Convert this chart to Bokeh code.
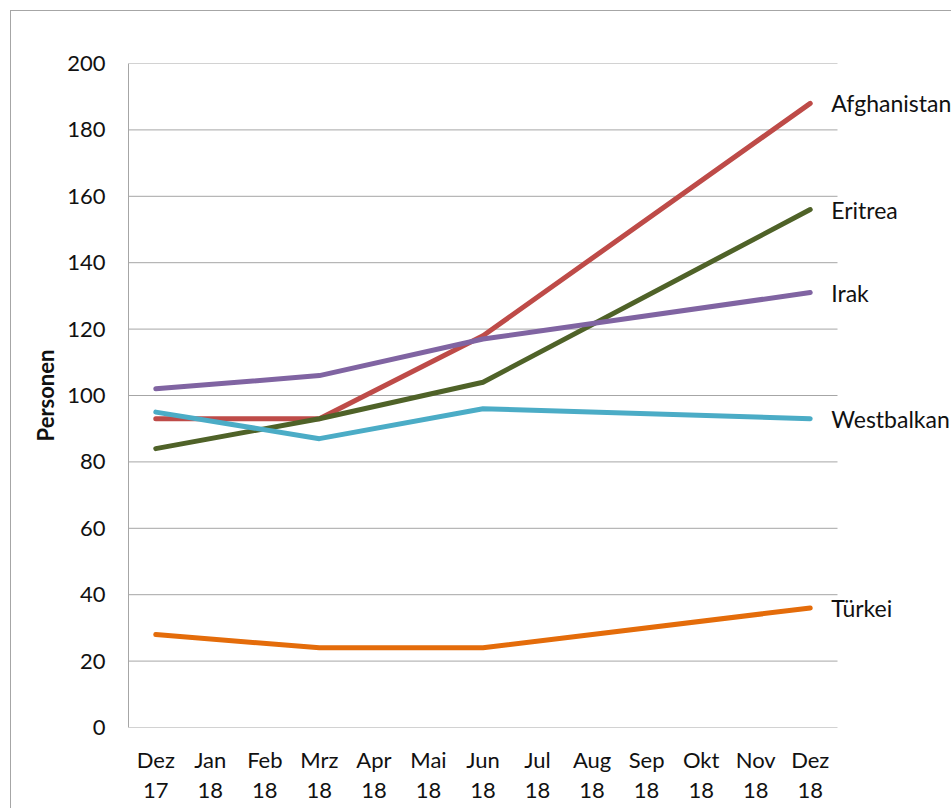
from bokeh.plotting import figure
from bokeh.models import Range1d, FixedTicker, LinearAxis, LabelSet, ColumnDataSource
from bokeh.core.properties import value
from bokeh.embed import file_html
from bokeh.resources import INLINE

# Monthly category axis (two-line labels: month / year)
months = ["Dez", "Jan", "Feb", "Mrz", "Apr", "Mai", "Jun", "Jul", "Aug", "Sep", "Okt", "Nov", "Dez"]
years = ["17", "18", "18", "18", "18", "18", "18", "18", "18", "18", "18", "18", "18"]
period_labels = [f"{m} {y}" for m, y in zip(months, years)]

# Reporting dates with values
sample_periods = ["Dez 17", "Mrz 18", "Jun 18", "Dez 18"]

series_names = ["Afghanistan", "Eritrea", "Irak", "Westbalkan", "Türkei"]
afghanistan = [93, 93, 118, 188]
eritrea = [84, 93, 104, 156]
irak = [102, 106, 117, 131]
westbalkan = [95, 87, 96, 93]
tuerkei = [28, 24, 24, 36]
series_values = [afghanistan, eritrea, irak, westbalkan, tuerkei]
series_colors = ["#BE4B48", "#4F6228", "#8064A2", "#4BACC6", "#E46C0A"]

y_ticks = [0, 20, 40, 60, 80, 100, 120, 140, 160, 180, 200]

FONT = "Lato"
FSIZE = "22px"
TEXT = "#111111"
GRID = "#A6A6A6"

x_pos = [period_labels.index(s) for s in sample_periods]

# Layout: plotting area for the months is 709 px wide; the frame continues to the
# right edge of the canvas so the series names can sit beside the line ends.
FIG_W, FIG_H = 941, 798
LEFT_PAD = 117
CAT_PX = 709 / len(months)
x_lo = -0.5
x_hi = x_lo + (FIG_W - LEFT_PAD) / CAT_PX
cat_hi = len(months) - 0.5

p = figure(
    width=FIG_W, height=FIG_H,
    x_range=Range1d(x_lo, x_hi),
    y_range=Range1d(0, 200),
    output_backend="svg", toolbar_location=None,
    x_axis_location=None, y_axis_location=None,
    min_border_left=LEFT_PAD, min_border_top=52, min_border_right=0, min_border_bottom=82,
    margin=(10, 0, 0, 10),
    styles={"border-top": "1px solid #A6A6A6", "border-left": "1px solid #A6A6A6"},
)
p.outline_line_color = None
p.background_fill_color = "white"
p.border_fill_color = "white"
p.xgrid.grid_line_color = None
p.ygrid.grid_line_color = None

# Y axis
yax = LinearAxis(ticker=FixedTicker(ticks=y_ticks))
yax.axis_line_color = GRID
yax.major_tick_line_color = None
yax.minor_tick_line_color = None
yax.major_tick_out = 0
yax.major_tick_in = 0
yax.major_label_standoff = 23
yax.major_label_text_font = FONT
yax.major_label_text_font_size = FSIZE
yax.major_label_text_color = TEXT
yax.axis_label = "Personen"
yax.axis_label_text_font = FONT
yax.axis_label_text_font_size = FSIZE
yax.axis_label_text_font_style = "bold"
yax.axis_label_text_color = TEXT
yax.axis_label_standoff = 5
p.add_layout(yax, "left")

# X axis: month row and year row
tick_idx = list(range(len(months)))
xax = LinearAxis(ticker=FixedTicker(ticks=tick_idx))
xax.major_label_overrides = {i: m for i, m in enumerate(months)}
xax.axis_line_color = None
xax.major_tick_line_color = None
xax.minor_tick_line_color = None
xax.major_tick_out = 0
xax.major_tick_in = 0
xax.major_label_standoff = 18
xax.major_label_text_font = FONT
xax.major_label_text_font_size = FSIZE
xax.major_label_text_color = TEXT
p.add_layout(xax, "below")

xax2 = LinearAxis(ticker=FixedTicker(ticks=tick_idx))
xax2.major_label_overrides = {i: y for i, y in enumerate(years)}
xax2.axis_line_color = None
xax2.major_tick_line_color = None
xax2.minor_tick_line_color = None
xax2.major_tick_out = 0
xax2.major_tick_in = 0
xax2.major_label_standoff = 7
xax2.major_label_text_font = FONT
xax2.major_label_text_font_size = FSIZE
xax2.major_label_text_color = TEXT
p.add_layout(xax2, "below")

# Horizontal gridlines across the month area only
p.segment(x0=[x_lo] * len(y_ticks), x1=[cat_hi] * len(y_ticks), y0=y_ticks, y1=y_ticks,
          line_color=GRID, line_width=1)

for name, vals, col in zip(series_names, series_values, series_colors):
    p.line(x_pos, vals, line_color=col, line_width=5, line_cap="round", line_join="round")

# Series names at the end of each line
end_src = ColumnDataSource(dict(
    x=[x_pos[-1]] * len(series_names),
    y=[v[-1] for v in series_values],
    name=series_names,
))
p.add_layout(LabelSet(
    x="x", y="y", text="name", source=end_src,
    x_offset=21, text_baseline="middle", text_align="left",
    text_font=value(FONT), text_font_size="23px", text_color=TEXT,
))

open("out.html", "w").write(file_html(p, INLINE))
